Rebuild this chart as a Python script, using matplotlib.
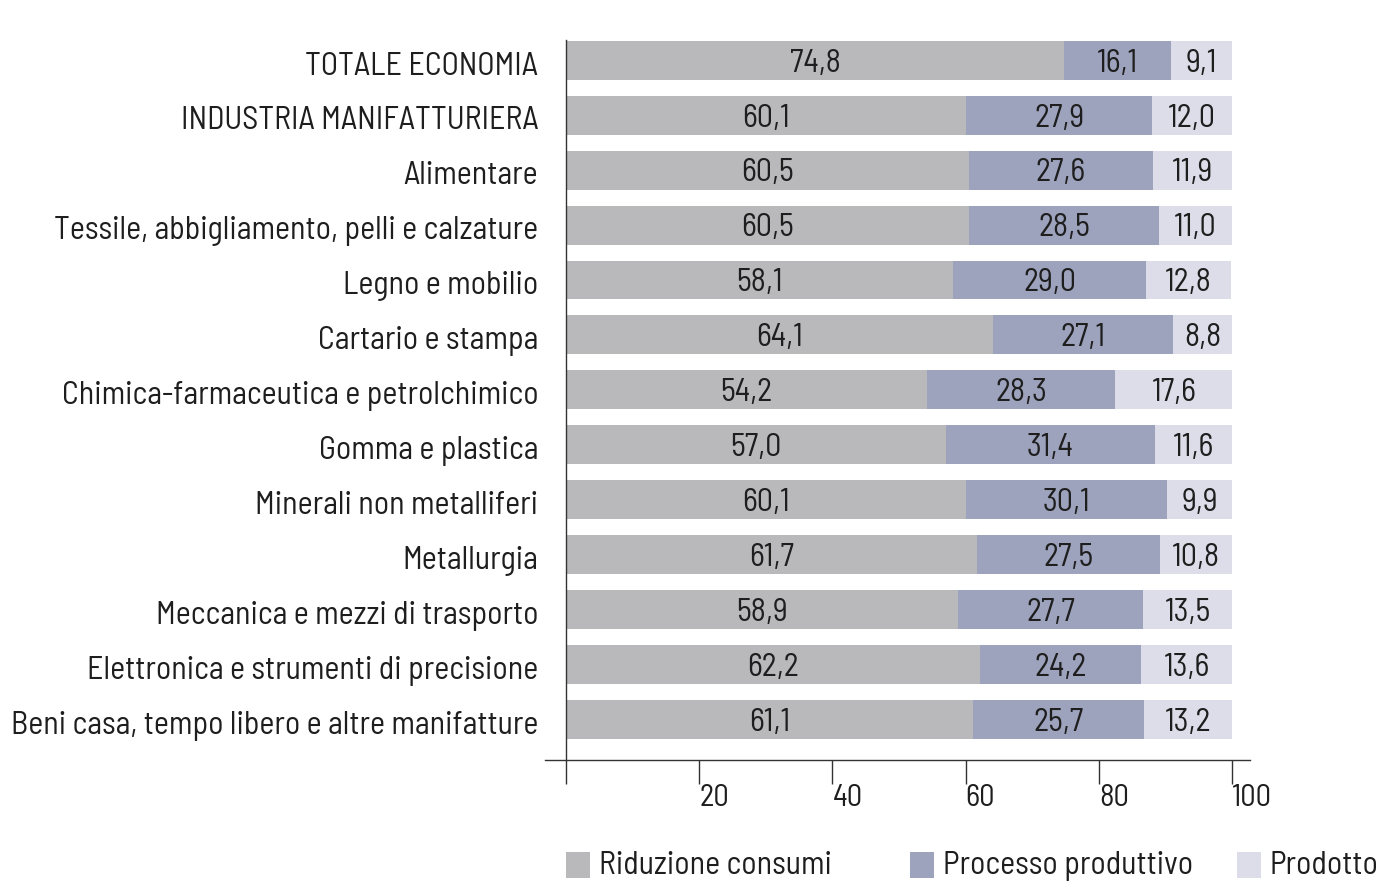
import numpy as np
import matplotlib
matplotlib.use("Agg")
import matplotlib.pyplot as plt
from matplotlib.patches import Rectangle
from matplotlib.lines import Line2D

plt.rcParams['font.family'] = ['Barlow Semi Condensed', 'DejaVu Sans']
plt.rcParams['font.weight'] = 'normal'

# Dati
categorie = [
    "TOTALE ECONOMIA",
    "INDUSTRIA MANIFATTURIERA",
    "Alimentare",
    "Tessile, abbigliamento, pelli e calzature",
    "Legno e mobilio",
    "Cartario e stampa",
    "Chimica-farmaceutica e petrolchimico",
    "Gomma e plastica",
    "Minerali non metalliferi",
    "Metallurgia",
    "Meccanica e mezzi di trasporto",
    "Elettronica e strumenti di precisione",
    "Beni casa, tempo libero e altre manifatture",
]
riduzione = [74.8, 60.1, 60.5, 60.5, 58.1, 64.1, 54.2, 57.0, 60.1, 61.7, 58.9, 62.2, 61.1]
processo = [16.1, 27.9, 27.6, 28.5, 29.0, 27.1, 28.3, 31.4, 30.1, 27.5, 27.7, 24.2, 25.7]
prodotto = [9.1, 12.0, 11.9, 11.0, 12.8, 8.8, 17.6, 11.6, 9.9, 10.8, 13.5, 13.6, 13.2]
serie = ["Riduzione consumi", "Processo produttivo", "Prodotto"]
colori = ["#b9b9bb", "#9ea3bd", "#dcdde8"]
tick_vals = [0, 20, 40, 60, 80, 100]

testo = "#1e1e1e"
fs = 23

fig = plt.figure(figsize=(13.82, 8.83), dpi=100)
ax = fig.add_axes([566 / 1382, 1 - 760 / 883, (1232 - 566) / 1382, (760 - 40) / 883])

y = np.arange(len(categorie))
left = np.zeros(len(categorie))
for valori, col in zip([riduzione, processo, prodotto], colori):
    v = np.array(valori)
    ax.barh(y, v, left=left, height=0.71, color=col, edgecolor="none")
    for yi, l, w in zip(y, left, v):
        ax.text(l + w / 2, yi + 0.06, f"{w:.1f}".replace(".", ","), ha="center", va="center",
                fontsize=fs, color=testo)
    left = left + v

ax.set_xlim(0, 100)
ax.set_ylim(12.74, -0.37)
ax.set_yticks(y + 0.05)
ax.set_yticklabels(categorie, fontsize=fs, color=testo)
ax.tick_params(axis="y", length=0, pad=20)

ax.set_xticks(tick_vals)
ax.set_xticklabels(["" if t == 0 else str(t) for t in tick_vals], fontsize=fs - 1, color=testo,
                   ha="left")
ax.tick_params(axis="x", direction="out", length=17, width=1, color="#333333", pad=0)

for s in ["top", "right", "bottom"]:
    ax.spines[s].set_visible(False)
ax.spines["left"].set_color("#333333")
ax.spines["left"].set_linewidth(1)

# linea dell'asse x, un po' piu lunga dell'area dei dati
ax.add_line(Line2D([-3.2, 102.7], [0, 0], transform=ax.get_xaxis_transform(),
                   color="#333333", lw=1, clip_on=False))

# Legenda
leg_x = [566, 910, 1237]
for xl, nome, col in zip(leg_x, serie, colori):
    fig.add_artist(Rectangle((xl / 1382, 1 - 878 / 883), 24 / 1382, 26 / 883,
                             transform=fig.transFigure, color=col, lw=0))
    fig.text((xl + 33) / 1382, 1 - 866 / 883, nome, fontsize=fs, color=testo,
             ha="left", va="center")

fig.savefig("out.png", dpi=100, facecolor="white")
